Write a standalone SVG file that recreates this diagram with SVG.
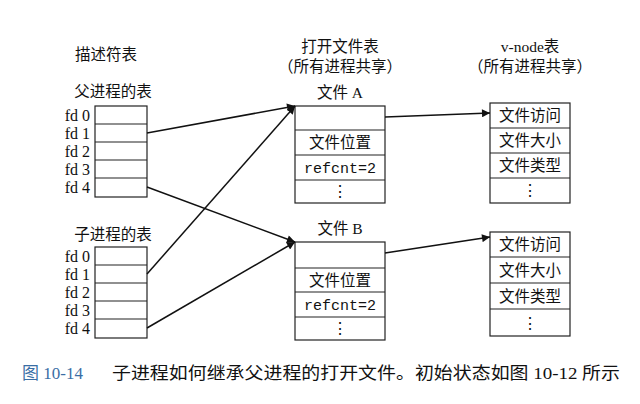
<svg xmlns="http://www.w3.org/2000/svg" width="640" height="404" viewBox="0 0 640 404">
<style>
text{font-family:"Liberation Serif","Noto Sans CJK SC",serif;font-size:15.5px;fill:#111}
.c{text-anchor:middle}
.fd{font-size:16px;text-anchor:end}
.m{font-family:"Liberation Mono","Noto Sans CJK SC",monospace;font-size:15px}
.cap{font-size:17px}
rect,line.r{fill:#fff;stroke:#222;stroke-width:1.2}
.a{stroke:#111;stroke-width:1.5;fill:none;marker-end:url(#ah)}
</style>
<defs><marker id="ah" viewBox="0 0 10 10" refX="10" refY="5" markerWidth="10" markerHeight="8" orient="auto" markerUnits="userSpaceOnUse"><path d="M0,0L10,5L0,10z" fill="#111"/></marker></defs>
<rect x="0" y="0" width="640" height="404" style="fill:#fff;stroke:none"/>
<text class="c" x="106" y="60">描述符表</text>
<text class="c" x="340" y="52">打开文件表</text>
<text class="c" x="340" y="72">（所有进程共享）</text>
<text class="c" x="530" y="52">v-node表</text>
<text class="c" x="530" y="72">（所有进程共享）</text>
<g id="parent">
<text class="c" x="113" y="97">父进程的表</text>
<rect x="95" y="106" width="52" height="91"/>
<line class="r" x1="95" y1="124" x2="147" y2="124"/><line class="r" x1="95" y1="142" x2="147" y2="142"/><line class="r" x1="95" y1="160" x2="147" y2="160"/><line class="r" x1="95" y1="178" x2="147" y2="178"/>
<text class="fd" x="90" y="121">fd 0</text><text class="fd" x="90" y="139">fd 1</text><text class="fd" x="90" y="157">fd 2</text><text class="fd" x="90" y="175">fd 3</text><text class="fd" x="90" y="193">fd 4</text>
</g>
<g id="child">
<text class="c" x="113" y="240">子进程的表</text>
<rect x="95" y="247" width="52" height="91"/>
<line class="r" x1="95" y1="265" x2="147" y2="265"/><line class="r" x1="95" y1="283" x2="147" y2="283"/><line class="r" x1="95" y1="301" x2="147" y2="301"/><line class="r" x1="95" y1="319" x2="147" y2="319"/>
<text class="fd" x="90" y="262">fd 0</text><text class="fd" x="90" y="280">fd 1</text><text class="fd" x="90" y="298">fd 2</text><text class="fd" x="90" y="316">fd 3</text><text class="fd" x="90" y="334">fd 4</text>
</g>
<g id="fileA">
<text class="c" x="340" y="98">文件 A</text>
<rect x="295" y="106" width="90" height="97"/>
<line class="r" x1="295" y1="130" x2="385" y2="130"/><line class="r" x1="295" y1="155" x2="385" y2="155"/><line class="r" x1="295" y1="180" x2="385" y2="180"/>
<text class="c" x="340" y="148">文件位置</text>
<text class="c m" x="340" y="173">refcnt=2</text>
<text class="c" x="340" y="197">⋮</text>
</g>
<g id="fileB">
<text class="c" x="340" y="234">文件 B</text>
<rect x="295" y="242" width="90" height="98"/>
<line class="r" x1="295" y1="268" x2="385" y2="268"/><line class="r" x1="295" y1="292" x2="385" y2="292"/><line class="r" x1="295" y1="317" x2="385" y2="317"/>
<text class="c" x="340" y="286">文件位置</text>
<text class="c m" x="340" y="310">refcnt=2</text>
<text class="c" x="340" y="334">⋮</text>
</g>
<g id="vnodeA">
<rect x="490" y="103" width="80" height="100"/>
<line class="r" x1="490" y1="128" x2="570" y2="128"/><line class="r" x1="490" y1="153" x2="570" y2="153"/><line class="r" x1="490" y1="178" x2="570" y2="178"/>
<text class="c" x="530" y="121">文件访问</text><text class="c" x="530" y="146">文件大小</text><text class="c" x="530" y="171">文件类型</text><text class="c" x="530" y="196">⋮</text>
</g>
<g id="vnodeB">
<rect x="490" y="232" width="80" height="104"/>
<line class="r" x1="490" y1="257" x2="570" y2="257"/><line class="r" x1="490" y1="283" x2="570" y2="283"/><line class="r" x1="490" y1="309" x2="570" y2="309"/>
<text class="c" x="530" y="250">文件访问</text><text class="c" x="530" y="276">文件大小</text><text class="c" x="530" y="302">文件类型</text><text class="c" x="530" y="329">⋮</text>
</g>
<g id="connectors">
<line class="a" x1="147" y1="133" x2="295" y2="106"/>
<line class="a" x1="147" y1="187" x2="295" y2="242"/>
<line class="a" x1="147" y1="274" x2="295" y2="106"/>
<line class="a" x1="147" y1="328" x2="295" y2="242"/>
<line class="a" x1="385" y1="117" x2="490" y2="113"/>
<line class="a" x1="385" y1="253" x2="490" y2="237"/>
</g>
<text class="cap" x="22" y="379" style="fill:#3a6ea5">图 10-14</text>
<text class="cap" x="112" y="379" textLength="508" lengthAdjust="spacingAndGlyphs">子进程如何继承父进程的打开文件。初始状态如图 10-12 所示</text>
</svg>
